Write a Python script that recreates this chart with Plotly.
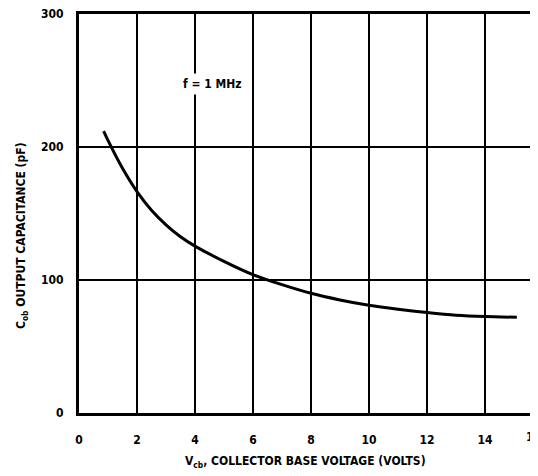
import plotly.graph_objects as go

# Data
vcb = [0.85, 1.0, 1.5, 2, 2.5, 3, 3.5, 4, 5, 6, 7, 8, 9, 10, 11, 12, 13, 14, 15.1]
cob = [212, 205, 184, 166.5, 152.5, 141.5, 132.5, 125.5, 114, 104, 96.5, 90, 85, 81, 78, 75.5, 73.5, 72.5, 72]

x_ticks = [0, 2, 4, 6, 8, 10, 12, 14]
y_ticks = [0, 100, 200, 300]

FONT = "Liberation Sans Narrow, Arial Narrow, DejaVu Sans Condensed, sans-serif"
X_MAX = 15.83

# The page body has an 8px default margin, so the figure is drawn 8px in from
# the window's top-left corner; sizes below compensate for that offset.
OFF = 8
W, H = 538 - OFF, 476 - OFF
L, T = 79 - OFF, 14 - OFF
B = H - (413 - OFF)

fig = go.Figure()
fig.add_trace(go.Scatter(
    x=vcb, y=cob, mode="lines",
    line=dict(color="black", width=3, shape="spline", smoothing=0.8),
    showlegend=False, hoverinfo="skip",
))

tf = dict(family=FONT, size=12, color="black", weight="bold")

plot_w = W - L
plot_h = H - T - B

fig.update_layout(
    width=W, height=H,
    margin=dict(l=L, r=0, t=T, b=B, pad=0),
    paper_bgcolor="white", plot_bgcolor="white",
    font=tf,
    xaxis=dict(
        range=[0, X_MAX], tickvals=x_ticks, ticktext=[str(v) for v in x_ticks],
        showgrid=True, gridcolor="black", gridwidth=1.6,
        showline=True, linecolor="black", linewidth=3, mirror=True,
        zeroline=False, ticks="", ticklabelstandoff=14, automargin=False,
        ticklabeloverflow="allow", tickfont=tf,
    ),
    yaxis=dict(
        range=[0, 300], tickvals=y_ticks, ticktext=[str(v) for v in y_ticks],
        showgrid=True, gridcolor="black", gridwidth=1.6,
        showline=True, linecolor="black", linewidth=3, mirror=True,
        zeroline=False, ticks="", ticklabelstandoff=10, automargin=False,
        ticklabeloverflow="allow", tickfont=tf,
    ),
    annotations=[
        dict(text="f = 1 MHz", x=4.6, y=247, xref="x", yref="y",
             showarrow=False, font=tf, bgcolor="white", borderpad=3),
        dict(text="V<sub>cb</sub>, COLLECTOR BASE VOLTAGE (VOLTS)",
             x=(305 - 79) / plot_w, y=(413 - 462) / plot_h,
             xref="paper", yref="paper", yanchor="middle", showarrow=False,
             font=tf),
        dict(text="C<sub>ob</sub> OUTPUT CAPACITANCE (pF)",
             x=(22 - 79) / plot_w, y=(413 - 236) / plot_h,
             xref="paper", yref="paper", textangle=-90,
             xanchor="center", yanchor="middle",
             showarrow=False, font=tf),
        dict(text="16", x=16 / X_MAX, y=0, xref="paper", yref="paper",
             yanchor="top", yshift=-15, showarrow=False, font=tf),
    ],
)

fig.write_html("out.html")
